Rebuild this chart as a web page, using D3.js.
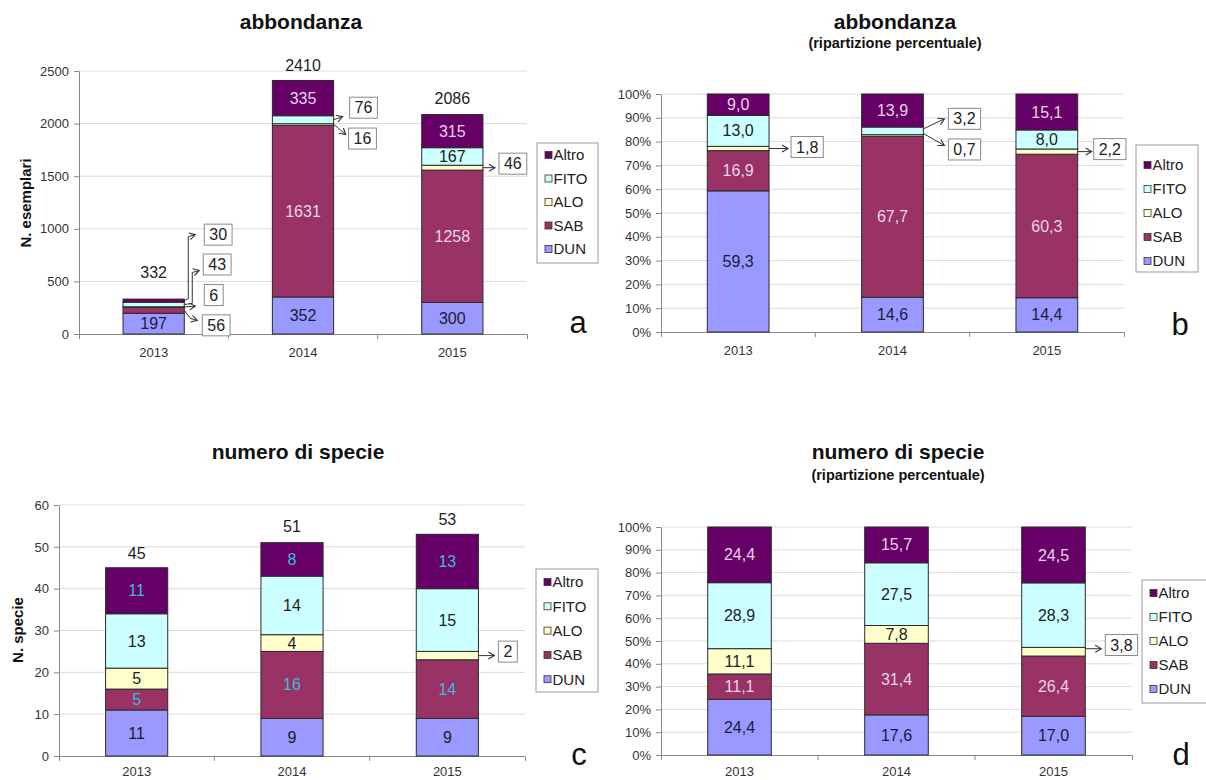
<!DOCTYPE html>
<html><head><meta charset="utf-8">
<script src="https://cdn.jsdelivr.net/npm/d3@7"></script>
<style>
body{margin:0;background:#fff;}
svg{display:block;font-family:"Liberation Sans",Arial,sans-serif;}
</style></head><body>
<svg id="c" width="1206" height="780"></svg>
<script>
// ---------------- DATA ----------------
const years = ["2013", "2014", "2015"];
const groups = ["DUN", "SAB", "ALO", "FITO", "Altro"];

// abbondanza (N. esemplari)
const abbDUN = [197, 352, 300];
const abbSAB = [56, 1631, 1258];
const abbALO = [6, 16, 46];
const abbFITO = [43, 76, 167];
const abbAltro = [30, 335, 315];
const abbTotal = [332, 2410, 2086];

// abbondanza (ripartizione percentuale)
const abbPctDUN = [59.3, 14.6, 14.4];
const abbPctSAB = [16.9, 67.7, 60.3];
const abbPctALO = [1.8, 0.7, 2.2];
const abbPctFITO = [13.0, 3.2, 8.0];
const abbPctAltro = [9.0, 13.9, 15.1];

// numero di specie
const spDUN = [11, 9, 9];
const spSAB = [5, 16, 14];
const spALO = [5, 4, 2];
const spFITO = [13, 14, 15];
const spAltro = [11, 8, 13];
const spTotal = [45, 51, 53];

// numero di specie (ripartizione percentuale)
const spPctDUN = [24.4, 17.6, 17.0];
const spPctSAB = [11.1, 31.4, 26.4];
const spPctALO = [11.1, 7.8, 3.8];
const spPctFITO = [28.9, 27.5, 28.3];
const spPctAltro = [24.4, 15.7, 24.5];

// tick values
const abbTicks = [0, 500, 1000, 1500, 2000, 2500];
const pctTicks = [0, 10, 20, 30, 40, 50, 60, 70, 80, 90, 100];
const spTicks = [0, 10, 20, 30, 40, 50, 60];

// ---------------- STYLE ----------------
const colors = {DUN: "#9999ff", SAB: "#993366", ALO: "#ffffcc", FITO: "#ccffff", Altro: "#660066"};
const itLocale = d3.formatLocale({decimal: ",", thousands: ".", grouping: [3], currency: ["", "€"]});
const fmtInt = itLocale.format("d");
const fmtDec = itLocale.format(".1f");

const svg = d3.select("#c");
svg.append("rect").attr("width", 1206).attr("height", 780).attr("fill", "#fff");
svg.append("defs").append("marker")
  .attr("id", "arr").attr("markerUnits", "userSpaceOnUse")
  .attr("markerWidth", 10).attr("markerHeight", 10).attr("refX", 8).attr("refY", 5)
  .attr("orient", "auto")
  .append("path").attr("d", "M2,1.5 L8,5 L2,8.5").attr("fill", "none")
  .attr("stroke", "#333").attr("stroke-width", 1.1);

function drawChart(o) {
  const g = svg.append("g");
  const rows = years.map((yr, i) => {
    const r = {year: yr};
    groups.forEach(k => r[k] = o.series[k][i]);
    return r;
  });
  const stack = d3.stack().keys(groups);
  if (o.pct) stack.offset(d3.stackOffsetExpand);
  const layers = stack(rows);

  const x = d3.scaleBand().domain(years).range([o.x0, o.x1]).paddingInner(o.pad).paddingOuter(o.pad / 2);
  const y = d3.scaleLinear().domain([0, o.max]).range([o.yb, o.yt]);
  const tv = o.pct ? o.ticks.map(t => t / 100) : o.ticks;

  // gridlines
  g.append("g").selectAll("line").data(tv.slice(1)).join("line")
    .attr("x1", o.x0).attr("x2", o.x1)
    .attr("y1", d => y(d)).attr("y2", d => y(d))
    .attr("stroke", "#dadada").attr("stroke-width", 1);

  // y axis
  const ya = g.append("g").attr("transform", `translate(${o.x0},0)`)
    .call(d3.axisLeft(y).tickValues(tv).tickSize(5).tickSizeOuter(0).tickPadding(5)
      .tickFormat(o.pct ? (d => Math.round(d * 100) + "%") : fmtInt));
  ya.select(".domain").attr("stroke", "#888");
  ya.selectAll(".tick line").attr("stroke", "#888");
  ya.selectAll("text").attr("font-size", 13).attr("fill", "#333")
    .attr("font-family", "Liberation Sans, Arial, sans-serif");

  // x axis
  const xa = g.append("g").attr("transform", `translate(0,${o.yb})`)
    .call(d3.axisBottom(x).tickSize(0).tickSizeOuter(5).tickPadding(o.xPad));
  xa.select(".domain").attr("stroke", "#888");
  xa.selectAll("text").attr("font-size", 13).attr("fill", "#333")
    .attr("font-family", "Liberation Sans, Arial, sans-serif");
  g.append("g").selectAll("line").data(years.slice(1)).join("line")
    .attr("x1", d => x(d) - x.step() * x.paddingInner() / 2)
    .attr("x2", d => x(d) - x.step() * x.paddingInner() / 2)
    .attr("y1", o.yb).attr("y2", o.yb + 5).attr("stroke", "#888");

  // bars
  const lay = g.append("g").selectAll("g").data(layers).join("g")
    .attr("fill", d => colors[d.key]);
  lay.selectAll("rect").data(d => d.map(s => Object.assign(s, {key: d.key}))).join("rect")
    .attr("x", d => x(d.data.year)).attr("width", x.bandwidth())
    .attr("y", d => y(d[1])).attr("height", d => y(d[0]) - y(d[1]))
    .attr("stroke", "#2a2a2a").attr("stroke-width", 1);

  const fmt = o.pct ? fmtDec : fmtInt;
  // inside labels
  layers.forEach(layer => {
    layer.forEach((s, i) => {
      const h = y(s[0]) - y(s[1]);
      if (h < 12) return;
      const cy = (y(s[0]) + y(s[1])) / 2;
      g.append("text").attr("x", x(years[i]) + x.bandwidth() / 2).attr("y", cy + 5.6)
        .attr("text-anchor", "middle").attr("font-size", 16)
        .attr("fill", o.labelColor[layer.key])
        .text(fmt(o.series[layer.key][i]));
    });
  });

  // callouts
  (o.callouts || []).forEach(c => {
    const layer = layers.find(l => l.key === c.k);
    const s = layer[c.i];
    const bx = x(years[c.i]) + x.bandwidth();
    const by = (y(s[0]) + y(s[1])) / 2;
    const pts = c.pts.map(p => [bx + p[0], by + p[1]]);
    g.append("path").attr("d", d3.line()(pts)).attr("fill", "none")
      .attr("stroke", "#333").attr("stroke-width", 1).attr("marker-end", "url(#arr)");
    const t = g.append("text").attr("font-size", 16).attr("fill", "#222")
      .attr("x", bx + c.box[0] + 5).attr("y", by + c.box[1] + 5.6)
      .text(fmt(o.series[c.k][c.i]));
    const w = t.node().getComputedTextLength();
    g.insert("rect", () => t.node())
      .attr("x", bx + c.box[0]).attr("y", by + c.box[1] - 10.5)
      .attr("width", w + 10).attr("height", 21)
      .attr("fill", "#fff").attr("stroke", "#8a8a8a").attr("stroke-width", 1);
  });

  // totals
  if (o.totals) {
    o.totals.forEach((t, i) => {
      g.append("text").attr("x", x(years[i]) + x.bandwidth() / 2)
        .attr("y", y(t) - o.totalLift[i] + 5.7)
        .attr("text-anchor", "middle").attr("font-size", 16).attr("fill", "#222")
        .text(fmtInt(t));
    });
  }

  // titles
  g.append("text").attr("x", o.title.x).attr("y", o.title.y).attr("text-anchor", "middle")
    .attr("font-size", 21).attr("font-weight", "bold").attr("fill", "#111").text(o.title.text);
  if (o.subtitle) {
    g.append("text").attr("x", o.title.x).attr("y", o.subtitle.y).attr("text-anchor", "middle")
      .attr("font-size", 14.5).attr("font-weight", "bold").attr("fill", "#111").text(o.subtitle.text);
  }
  if (o.yTitle) {
    g.append("text").attr("transform", `translate(${o.yTitle.x},${o.yTitle.y}) rotate(-90)`)
      .attr("text-anchor", "middle").attr("font-size", 15).attr("font-weight", "bold")
      .attr("fill", "#111").text(o.yTitle.text);
  }
  // corner letter
  g.append("text").attr("x", o.letter.x).attr("y", o.letter.y).attr("text-anchor", "middle")
    .attr("font-size", 31).attr("fill", "#111").text(o.letter.text);

  // legend
  const L = o.legend;
  g.append("rect").attr("x", L.x).attr("y", L.y).attr("width", L.w).attr("height", L.h)
    .attr("fill", "#fff").attr("stroke", "#9a9a9a").attr("stroke-width", 1);
  groups.slice().reverse().forEach((k, j) => {
    const cy = L.first + j * L.step;
    g.append("rect").attr("x", L.x + 8).attr("y", cy - 3.5).attr("width", 7).attr("height", 7)
      .attr("fill", colors[k]).attr("stroke", "#333").attr("stroke-width", 0.8);
    g.append("text").attr("x", L.x + 16.5).attr("y", cy + 5.3).attr("font-size", 15)
      .attr("fill", "#222").text(k);
  });
}

const lightLbl = {DUN: "#1c1c38", SAB: "#e8d4ea", ALO: "#222", FITO: "#222", Altro: "#e8d4ea"};
const cyanLbl = {DUN: "#1c1c1c", SAB: "#3bbcd8", ALO: "#1c1c1c", FITO: "#1c1c1c", Altro: "#3bbcd8"};

// chart a
drawChart({
  series: {DUN: abbDUN, SAB: abbSAB, ALO: abbALO, FITO: abbFITO, Altro: abbAltro},
  totals: abbTotal, totalLift: [27, 15, 16],
  pct: false, max: 2500, ticks: abbTicks,
  x0: 79, x1: 527, yt: 71, yb: 334, pad: 0.59, xPad: 14,
  labelColor: lightLbl,
  title: {x: 301, y: 29, text: "abbondanza"},
  yTitle: {x: 30.5, y: 203, text: "N. esemplari"},
  letter: {x: 578, y: 333, text: "a"},
  legend: {x: 537, y: 143, w: 61, h: 120, first: 155, step: 23.5},
  callouts: [
    {k: "Altro", i: 0, pts: [[0, 0], [4, -2], [4, -64], [11, -66]], box: [20, -66]},
    {k: "FITO", i: 0, pts: [[0, 0], [8, -1], [8, -32], [15, -34]], box: [19, -40]},
    {k: "ALO", i: 0, pts: [[0, 0], [11, -1]], box: [20, -12]},
    {k: "SAB", i: 0, pts: [[0, 0], [6, 8], [13, 10]], box: [18, 15]},
    {k: "FITO", i: 1, pts: [[0, 0], [9, -3]], box: [16, -12]},
    {k: "ALO", i: 1, pts: [[0, 0], [4, 3], [12, 10]], box: [15, 14]},
    {k: "ALO", i: 2, pts: [[0, 0], [12, 0]], box: [16, -4]}
  ]
});

// chart b
drawChart({
  series: {DUN: abbPctDUN, SAB: abbPctSAB, ALO: abbPctALO, FITO: abbPctFITO, Altro: abbPctAltro},
  pct: true, max: 1, ticks: pctTicks,
  x0: 661, x1: 1124, yt: 94, yb: 332, pad: 0.6, xPad: 14,
  labelColor: lightLbl,
  title: {x: 895, y: 29, text: "abbondanza"},
  subtitle: {y: 47.5, text: "(ripartizione percentuale)"},
  letter: {x: 1180, y: 335, text: "b"},
  legend: {x: 1136, y: 145, w: 62, h: 127, first: 165, step: 24},
  callouts: [
    {k: "ALO", i: 0, pts: [[0, 0], [19, 0]], box: [22, -1.5]},
    {k: "FITO", i: 1, pts: [[0, -2], [21, -12]], box: [25, -12]},
    {k: "ALO", i: 1, pts: [[0, -2], [21, 10]], box: [25, 14]},
    {k: "ALO", i: 2, pts: [[0, 0], [14, 0]], box: [16, -2.5]}
  ]
});

// chart c
drawChart({
  series: {DUN: spDUN, SAB: spSAB, ALO: spALO, FITO: spFITO, Altro: spAltro},
  totals: spTotal, totalLift: [14, 16, 15],
  pct: false, max: 60, ticks: spTicks,
  x0: 59, x1: 525, yt: 505, yb: 756, pad: 0.6, xPad: 11,
  labelColor: cyanLbl,
  title: {x: 298, y: 459, text: "numero di specie"},
  yTitle: {x: 22.5, y: 630, text: "N. specie"},
  letter: {x: 579, y: 765, text: "c"},
  legend: {x: 536, y: 569, w: 62, h: 123, first: 582, step: 24.3},
  callouts: [
    {k: "ALO", i: 2, pts: [[0, 0], [16, 0]], box: [20, -4]}
  ]
});

// chart d
drawChart({
  series: {DUN: spPctDUN, SAB: spPctSAB, ALO: spPctALO, FITO: spPctFITO, Altro: spPctAltro},
  pct: true, max: 1, ticks: pctTicks,
  x0: 661, x1: 1132, yt: 527, yb: 755, pad: 0.595, xPad: 12,
  labelColor: lightLbl,
  title: {x: 898, y: 459, text: "numero di specie"},
  subtitle: {y: 479.5, text: "(ripartizione percentuale)"},
  letter: {x: 1181, y: 765, text: "d"},
  legend: {x: 1142, y: 580, w: 70, h: 123, first: 593, step: 24},
  callouts: [
    {k: "ALO", i: 2, pts: [[0, -3], [16, -3]], box: [20, -6.7]}
  ]
});
</script>
</body></html>
